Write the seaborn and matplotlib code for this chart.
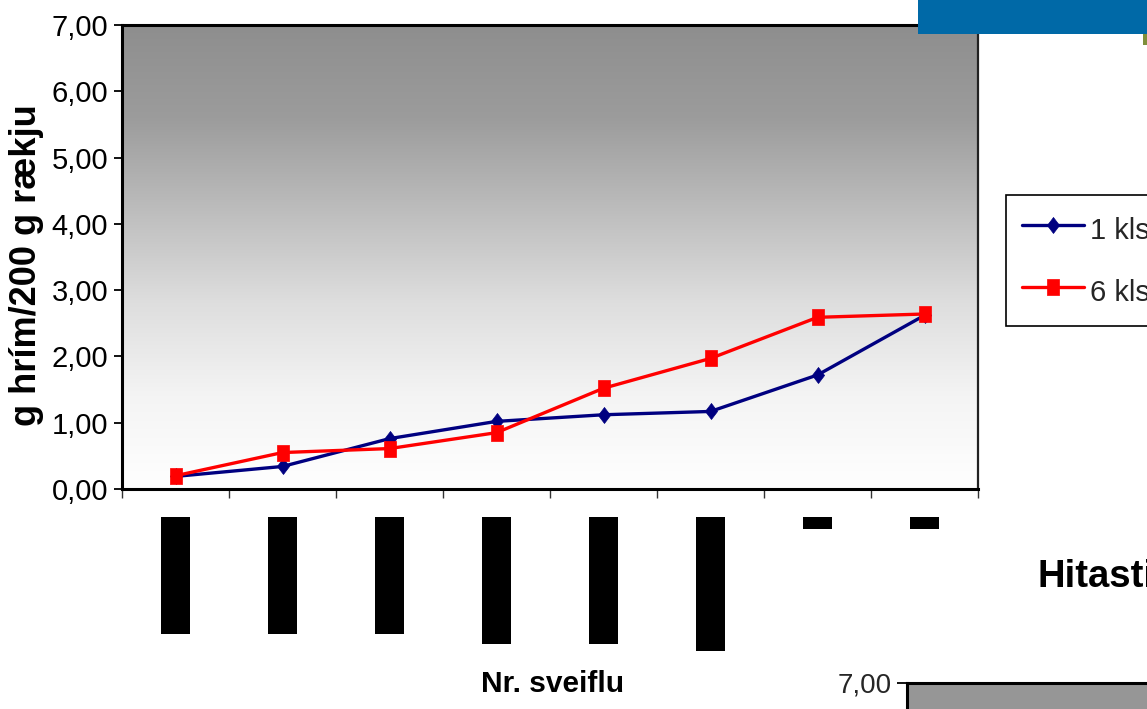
import matplotlib
matplotlib.use("Agg")
import numpy as np
import pandas as pd
import seaborn as sns
import matplotlib.pyplot as plt
from matplotlib.colors import LinearSegmentedColormap
from matplotlib.patches import Rectangle
from matplotlib.transforms import blended_transform_factory

# ---- data -------------------------------------------------------------
cycles = [1, 2, 3, 4, 5, 6, 7, 8]
series_names = ["1 klst", "6 klst"]
frost_1h = [0.19, 0.34, 0.76, 1.02, 1.12, 1.17, 1.72, 2.62]
frost_6h = [0.20, 0.55, 0.61, 0.85, 1.52, 1.97, 2.59, 2.64]
y_ticks = [0, 1, 2, 3, 4, 5, 6, 7]
y_label = "g hrím/200 g rækju"
x_label = "Nr. sveiflu"
side_title = "Hitastig"

W, H = 1147, 709

sns.set_theme(style="white")
plt.rcParams["font.family"] = ["Liberation Sans", "DejaVu Sans"]

df = pd.DataFrame({
    "pos": list(range(len(cycles))) * 2,
    "value": frost_1h + frost_6h,
    "series": [series_names[0]] * len(cycles) + [series_names[1]] * len(cycles),
})

fig = plt.figure(figsize=(W / 100, H / 100), dpi=100)
fig.patch.set_facecolor("white")

ax = fig.add_axes([122 / W, 1 - 489 / H, 856 / W, 464 / H])

# gray-to-white vertical gradient behind the plot
grad_cmap = LinearSegmentedColormap.from_list(
    "bg", [(0.0, "#8e8e8e"), (0.2, "#9c9c9c"), (0.4, "#bdbdbd"),
           (0.6, "#dedede"), (0.8, "#f4f4f4"), (1.0, "#ffffff")])
grad = np.linspace(0, 1, 256).reshape(-1, 1)
ax.imshow(grad, cmap=grad_cmap, extent=[0, 1, 0, 1], transform=ax.transAxes,
          aspect="auto", origin="upper", zorder=0, interpolation="bicubic")

diamond = [(0, 0.5), (0.38, 0), (0, -0.5), (-0.38, 0), (0, 0.5)]
tall_square = [(-0.38, -0.5), (0.38, -0.5), (0.38, 0.5), (-0.38, 0.5), (-0.38, -0.5)]

sns.lineplot(data=df, x="pos", y="value", hue="series", style="series",
             hue_order=series_names, style_order=series_names,
             palette={"1 klst": "#000080", "6 klst": "#ff0000"},
             markers={"1 klst": diamond, "6 klst": tall_square},
             dashes=False, linewidth=2.4, markersize=11.5, legend=False,
             ax=ax, zorder=3)

for line in ax.lines:
    c = line.get_color()
    line.set_markeredgecolor(c)
    line.set_markerfacecolor(c)
    line.set_markeredgewidth(0.5)
ax.lines[1].set_markersize(12)

ax.set_xlim(-0.5, len(cycles) - 0.5)
ax.set_ylim(0, 7)

ax.set_yticks(y_ticks)
ax.set_yticklabels([f"{v:.2f}".replace(".", ",") for v in y_ticks])
ax.tick_params(axis="y", left=True, direction="out", length=6, width=1.3,
               color="black", labelsize=21, pad=4, labelcolor="black")
ax.set_xticks(np.arange(-0.5, len(cycles), 1.0))
ax.set_xticklabels([])
ax.tick_params(axis="x", bottom=True, direction="out", length=6.5, width=1,
               color="#333333")

for side in ["left", "bottom", "top", "right"]:
    ax.spines[side].set_visible(True)
    ax.spines[side].set_color("black")
    ax.spines[side].set_linewidth(2.2)
ax.spines["right"].set_color("#222222")
ax.spines["right"].set_linewidth(1.6)

# axis titles
ax.set_ylabel(y_label, fontsize=26, fontweight="bold", color="black")
ax.yaxis.set_label_coords(44 / W, 1 - 265 / H, transform=fig.transFigure)
ax.set_xlabel(x_label, fontsize=21.5, fontweight="bold", color="black")
ax.xaxis.set_label_coords(553 / W, 1 - 670 / H, transform=fig.transFigure)

# category labels shown as solid black blocks
block_depth = [117, 117, 117, 127, 127, 134, 12, 12]
blend = blended_transform_factory(ax.transData, fig.transFigure)
for i, d in enumerate(block_depth):
    ax.add_artist(Rectangle((i - 0.131, 1 - (517 + d) / H), 0.262, d / H,
                            transform=blend, facecolor="black",
                            edgecolor="none", clip_on=False))

# legend
leg = fig.legend(ax.lines[:2], series_names, loc="upper left",
                 bbox_to_anchor=(1006 / W, 1 - 195 / H),
                 bbox_transform=fig.transFigure, fontsize=21, frameon=True,
                 fancybox=False, edgecolor="black", framealpha=1,
                 handlelength=2.14, handleheight=1.6, handletextpad=0.2,
                 borderpad=0.55, labelspacing=0.83, borderaxespad=0)
leg.get_frame().set_linewidth(1.2)

# banner strip at the top right
fig.add_artist(Rectangle((918 / W, 1 - 34 / H), (W - 918) / W, 34 / H,
                         transform=fig.transFigure, facecolor="#0069a7",
                         edgecolor="none"))
fig.add_artist(Rectangle((1143 / W, 1 - 45 / H), 4 / W, 11 / H,
                         transform=fig.transFigure, facecolor="#7f8f3a",
                         edgecolor="none"))

fig.text(1038 / W, 1 - 587 / H, side_title, fontsize=27.5, fontweight="bold",
         ha="left", va="baseline", color="black")

# top edge of the next chart
ax2 = fig.add_axes([907 / W, 0, (W - 907) / W, 26 / H])
ax2.set_facecolor("#969696")
ax2.set_ylim(7 - 26 / 66.3, 7)
ax2.set_xlim(0, 1)
ax2.set_yticks([7])
ax2.set_yticklabels(["7,00"])
ax2.set_xticks([])
ax2.tick_params(axis="y", left=True, direction="out", length=7, width=1.3,
                color="black", labelsize=20, pad=4)
for side in ["left", "top"]:
    ax2.spines[side].set_visible(True)
    ax2.spines[side].set_color("black")
    ax2.spines[side].set_linewidth(2.2)
ax2.spines["right"].set_visible(False)
ax2.spines["bottom"].set_visible(False)

fig.savefig("out.png", dpi=100)
